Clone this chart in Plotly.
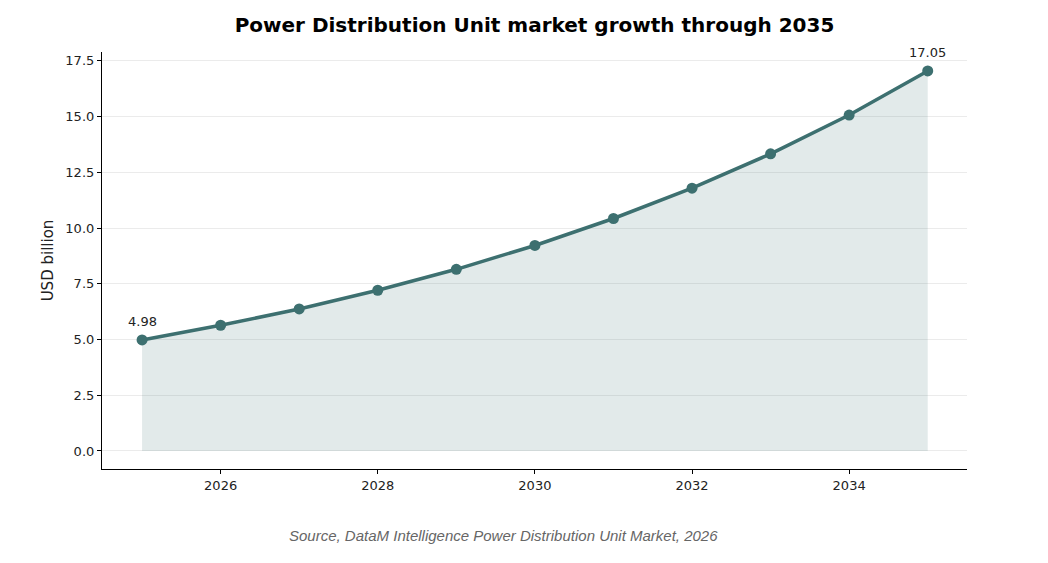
import plotly.graph_objects as go

years = [2025, 2026, 2027, 2028, 2029, 2030, 2031, 2032, 2033, 2034, 2035]
values = [4.98, 5.64, 6.37, 7.21, 8.15, 9.22, 10.43, 11.79, 13.33, 15.07, 17.05]
label_years = [2025, 2035]
label_values = [4.98, 17.05]
label_texts = ["4.98", "17.05"]
y_ticks = [0, 2.5, 5, 7.5, 10, 12.5, 15, 17.5]
x_ticks = [2026, 2028, 2030, 2032, 2034]

line_color = "#3d7070"

fig = go.Figure()
fig.add_trace(go.Scatter(
    x=years, y=values, mode="lines", fill="tozeroy",
    fillcolor="rgba(61,112,112,0.15)", line=dict(width=0.8, color="rgba(61,112,112,0.25)"),
    hoverinfo="skip", showlegend=False))
fig.add_trace(go.Scatter(
    x=years, y=values, mode="lines+markers",
    line=dict(color=line_color, width=3.5),
    marker=dict(size=11, color=line_color),
    showlegend=False))

annotations = [dict(x=xv, y=yv, text=t, xref="x", yref="y", showarrow=False,
                    yshift=18, xanchor="center", yanchor="middle",
                    font=dict(family="DejaVu Sans", size=13, color="#222222"))
               for xv, yv, t in zip(label_years, label_values, label_texts)]
annotations.append(dict(text="<i>Source, DataM Intelligence Power Distribution Unit Market, 2026</i>",
                        xref="paper", yref="paper", x=(503 - 102) / 865, y=-(535 - 469) / 417,
                        xanchor="center", yanchor="middle", showarrow=False,
                        font=dict(family="Liberation Sans", size=15, color="#666666")))

fig.update_layout(
    width=1048, height=563,
    margin=dict(l=102, r=81, t=52, b=94),
    paper_bgcolor="white", plot_bgcolor="white",
    title=dict(text="<b>Power Distribution Unit market growth through 2035</b>",
               xref="paper", x=0.5, xanchor="center", y=0.955, yanchor="middle",
               font=dict(family="DejaVu Sans", size=20, color="black")),
    font=dict(family="DejaVu Sans", size=13, color="#222222"),
    xaxis=dict(range=[2024.49, 2035.5], tickvals=x_ticks, showgrid=False,
               showline=True, linecolor="black", linewidth=1.2,
               ticks="outside", ticklen=4, tickcolor="black", zeroline=False),
    yaxis=dict(range=[-0.81, 17.9], tickvals=y_ticks,
               ticktext=["0.0", "2.5", "5.0", "7.5", "10.0", "12.5", "15.0", "17.5"],
               showgrid=True, gridcolor="#ebebeb", gridwidth=1,
               showline=True, linecolor="black", linewidth=1.2,
               ticks="outside", ticklen=4, tickcolor="black", zeroline=False,
               title=dict(text="USD billion", font=dict(size=15), standoff=8)),
    annotations=annotations,
)

fig.write_html("out.html")
